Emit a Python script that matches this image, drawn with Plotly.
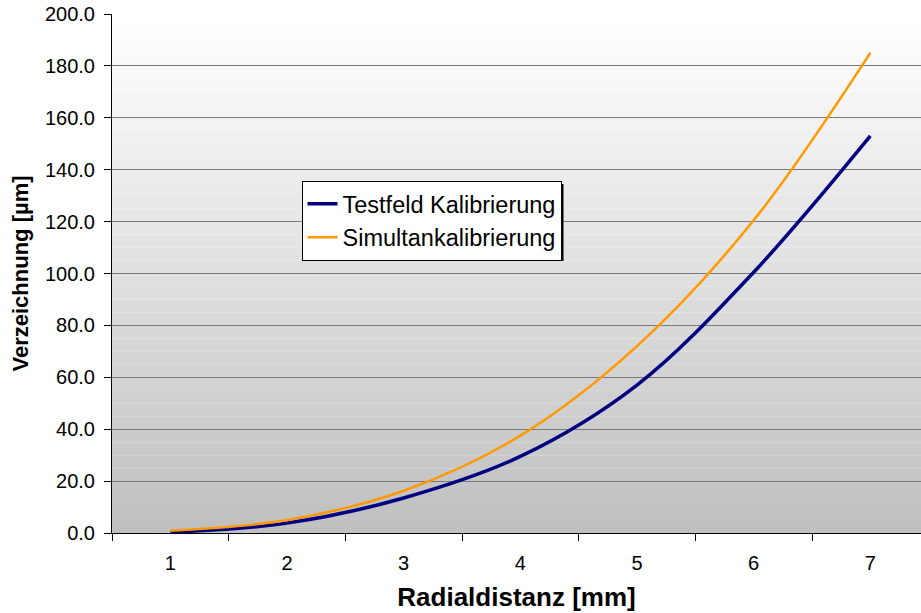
import plotly.graph_objects as go

radial = [1, 2, 3, 4, 5, 6, 7]
testfeld = [0.3, 3.8, 13.5, 29.5, 57.0, 100.5, 153.0]
simultan = [0.9, 5.0, 16.3, 37.5, 72.0, 120.5, 185.0]
y_ticks = [0, 20, 40, 60, 80, 100, 120, 140, 160, 180, 200]

FONT = "Arial, Liberation Sans, sans-serif"

fig = go.Figure()
fig.add_trace(go.Scatter(x=radial, y=testfeld, name="Testfeld Kalibrierung",
                         mode="lines", line=dict(color="#000080", width=3.5, shape="spline")))
fig.add_trace(go.Scatter(x=radial, y=simultan, name="Simultankalibrierung",
                         mode="lines", line=dict(color="#FF9900", width=2.5, shape="spline")))

W, H = 921, 613
ml, mr, mt, mb = 112, 0, 14, 80
pw, ph = W - ml - mr, H - mt - mb

# gradient background bands (white top -> grey bottom)
n = 40
shapes = []
for i in range(n):
    t = i / (n - 1)
    v = int(round(255 - (255 - 192) * (1 - t)))
    shapes.append(dict(type="rect", xref="paper", yref="paper", x0=0, x1=1,
                       y0=i / n, y1=(i + 1) / n, line=dict(width=0),
                       fillcolor=f"rgb({v},{v},{v})", layer="below"))

def px(xp):
    return (xp - ml) / pw

def py(yp):
    return (H - mb - yp) / ph

LEG_L, LEG_T = 301.5, 181
# legend drop shadow
shapes.append(dict(type="rect", xref="paper", yref="paper",
                   x0=px(LEG_L + 3), x1=px(LEG_L + 3 + 259), y0=py(LEG_T + 3 + 77), y1=py(LEG_T + 3),
                   line=dict(width=0), fillcolor="black", layer="above"))

fig.update_layout(
    width=W, height=H,
    margin=dict(l=ml, r=mr, t=mt, b=mb),
    paper_bgcolor="white", plot_bgcolor="white",
    font=dict(family=FONT, size=20, color="black"),
    shapes=shapes,
    showlegend=True,
    legend=dict(x=px(LEG_L), y=py(LEG_T),
                xanchor="left", yanchor="top",
                bgcolor="white", bordercolor="black", borderwidth=1,
                font=dict(size=23.5, family=FONT), tracegroupgap=0),
)

cat_w = 700 / 6
x_end = 0.5 + pw / cat_w

fig.update_xaxes(
    range=[0.5, x_end], tickmode="array", tickvals=radial, ticktext=[str(r) for r in radial],
    ticks="", showgrid=False, showline=True, linecolor="black", linewidth=1,
    zeroline=False, tickfont=dict(size=20), ticklabelstandoff=12,
    minor=dict(tick0=0.5, dtick=1, ticks="outside", ticklen=7, tickcolor="black", showgrid=False),
    title=dict(text="<b>Radialdistanz [mm]</b>", font=dict(size=26), standoff=14),
)
fig.update_yaxes(
    range=[0, 200], tickmode="array", tickvals=y_ticks, ticktext=[f"{v:.1f}" for v in y_ticks],
    ticks="outside", ticklen=7, tickcolor="black", ticklabelstandoff=5,
    showgrid=True, gridcolor="#7a7a7a", gridwidth=1,
    showline=True, linecolor="black", linewidth=1, zeroline=False,
    tickfont=dict(size=20),
    title=dict(text="<b>Verzeichnung [µm]</b>", font=dict(size=22), standoff=10),
)

fig.write_html("out.html")
